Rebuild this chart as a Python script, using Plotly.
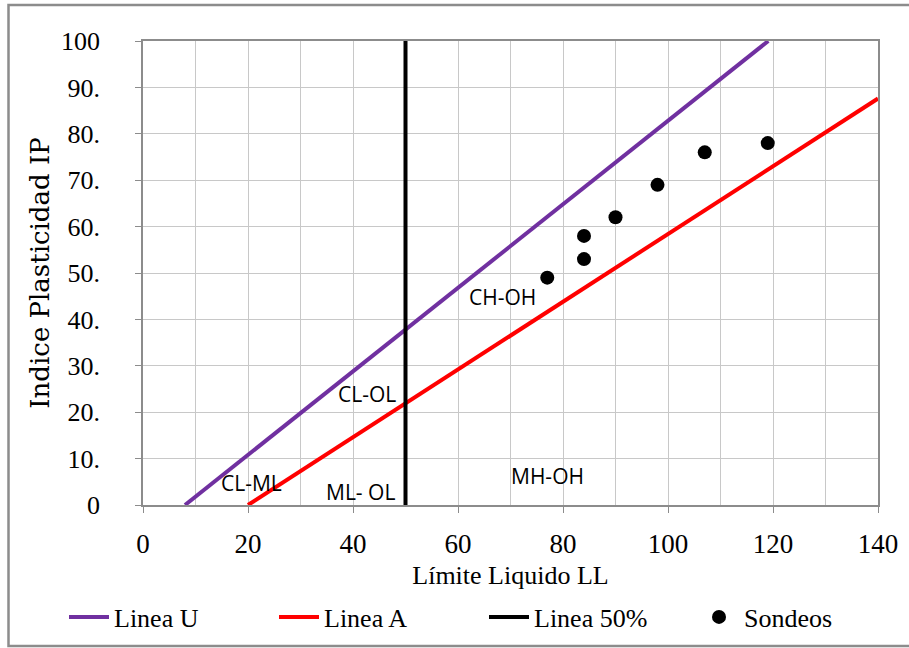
import plotly.graph_objects as go

# Data
u_ll = [8, 119.1]
u_ip = [0, 100]
a_ll = [20, 140]
a_ip = [0, 87.6]
l50_ll = [50, 50]
l50_ip = [0, 100]
sondeos_ll = [77, 84, 84, 90, 98, 107, 119]
sondeos_ip = [49, 58, 53, 62, 69, 76, 78]

zone_labels = ["CH-OH", "CL-OL", "CL-ML", "ML- OL", "MH-OH"]
zone_x = [68.5, 42.7, 20.6, 41.5, 77]
zone_y = [44.8, 23.9, 4.8, 2.8, 6.3]

y_tickvals = [0, 10, 20, 30, 40, 50, 60, 70, 80, 90, 100]
y_ticktext = ["0", "10.", "20.", "30.", "40.", "50.", "60.", "70.", "80.", "90.", "100"]
x_tickvals = [0, 20, 40, 60, 80, 100, 120, 140]

serif = "Liberation Serif"
PL, PR, PT, PB = 143, 878, 41, 505
PW, PH = PR - PL, PB - PT

fig = go.Figure()
fig.add_trace(go.Scatter(x=u_ll, y=u_ip, mode="lines", name="Linea U",
                         line=dict(color="#7030A0", width=4)))
fig.add_trace(go.Scatter(x=a_ll, y=a_ip, mode="lines", name="Linea A",
                         line=dict(color="#FF0000", width=4)))
fig.add_trace(go.Scatter(x=l50_ll, y=l50_ip, mode="lines", name="Linea 50%",
                         line=dict(color="#000000", width=4)))
fig.add_trace(go.Scatter(x=sondeos_ll, y=sondeos_ip, mode="markers", name="Sondeos",
                         marker=dict(color="#000000", size=14)))

for t, x, y in zip(zone_labels, zone_x, zone_y):
    fig.add_annotation(x=x, y=y, text=t, showarrow=False,
                       font=dict(family="Open Sans", size=21, color="#000"))

# chart-area border
fig.add_shape(type="rect", xref="paper", yref="paper",
              x0=(8.5 - PL) / PW, x1=(930 - PL) / PW,
              y0=(PB - 646) / PH, y1=(PB - 5) / PH,
              line=dict(color="#8C8C8C", width=2.5), fillcolor="rgba(0,0,0,0)")

fig.update_layout(
    width=909, height=648,
    margin=dict(l=PL, r=909 - PR, t=PT, b=648 - PB, autoexpand=False),
    plot_bgcolor="white", paper_bgcolor="white",
    showlegend=True,
    legend=dict(orientation="h", x=(64 - PL) / PW, xanchor="left",
                y=(PB - 617) / PH, yanchor="middle",
                font=dict(family=serif, size=26, color="#000"),
                itemwidth=40, entrywidth=155, tracegroupgap=0),
    xaxis=dict(range=[0, 140], tickvals=x_tickvals,
               showgrid=True, gridcolor="#C8C8C8", gridwidth=1,
               minor=dict(dtick=10, showgrid=True, gridcolor="#C8C8C8"),
               showline=True, linecolor="#8C8C8C", linewidth=1.5, mirror=True,
               ticks="outside", ticklen=6, tickcolor="#8C8C8C",
               zeroline=False, ticklabelstandoff=8,
               tickfont=dict(family=serif, size=27, color="#000"),
               title=dict(text="Límite Liquido LL", font=dict(family=serif, size=26, color="#000"),
                          standoff=8)),
    yaxis=dict(range=[0, 100], tickvals=y_tickvals, ticktext=y_ticktext,
               showgrid=True, gridcolor="#C8C8C8", gridwidth=1,
               showline=True, linecolor="#8C8C8C", linewidth=1.5, mirror=True,
               ticks="outside", ticklen=6, tickcolor="#8C8C8C",
               zeroline=False, ticklabelstandoff=30,
               tickfont=dict(family=serif, size=26, color="#000"),
               title=dict(text="Indice Plasticidad IP", font=dict(family="DejaVu Serif", size=26, color="#000"),
                          standoff=4)),
)

fig.write_html("out.html")
